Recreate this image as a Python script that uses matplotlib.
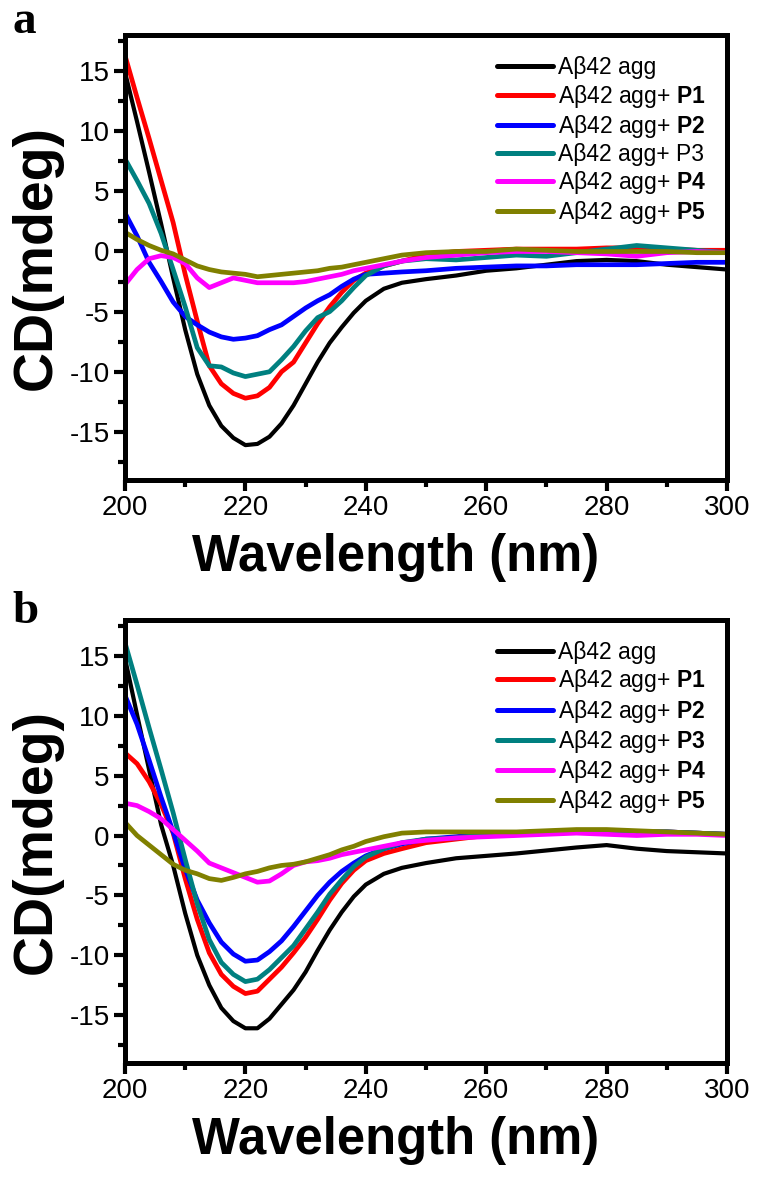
import matplotlib
matplotlib.use('Agg')
import matplotlib.pyplot as plt

plt.rcParams['font.family'] = ['Liberation Sans', 'DejaVu Sans']
plt.rcParams['mathtext.fontset'] = 'custom'
plt.rcParams['mathtext.rm'] = 'Liberation Sans'
plt.rcParams['mathtext.bf'] = 'Liberation Sans:bold'
plt.rcParams['axes.unicode_minus'] = False

wl = [200, 202, 204, 206, 208, 210, 212, 214, 216, 218, 220, 222, 224, 226, 228, 230, 232,
      234, 236, 238, 240, 243, 246, 250, 255, 260, 265, 270, 275, 280, 285, 290, 295, 300]

# panel a
a_agg = [14.9, 10.8, 6.6, 2.3, -2.2, -6.5, -10.2, -12.8, -14.5, -15.5, -16.1, -16.0, -15.4, -14.3,
         -12.8, -11.0, -9.2, -7.6, -6.3, -5.1, -4.1, -3.1, -2.6, -2.3, -2.0, -1.6, -1.4, -1.1, -0.8,
         -0.7, -0.8, -1.1, -1.3, -1.5]
a_p1 = [16.3, 12.8, 9.4, 5.9, 2.4, -1.9, -5.8, -9.5, -11.0, -11.8, -12.2, -12.0, -11.3, -10.0,
        -9.2, -7.6, -6.0, -4.6, -3.4, -2.4, -1.8, -1.2, -0.8, -0.3, 0.0, 0.1, 0.2, 0.2, 0.2, 0.3,
        0.3, 0.2, 0.1, 0.1]
a_p2 = [3.2, 1.3, -0.9, -2.5, -4.2, -5.4, -6.1, -6.7, -7.1, -7.3, -7.2, -7.0, -6.5, -6.1, -5.4,
        -4.7, -4.1, -3.6, -2.9, -2.3, -1.9, -1.8, -1.7, -1.6, -1.4, -1.3, -1.2, -1.2, -1.1, -1.1,
        -1.1, -1.0, -0.9, -0.9]
a_p3 = [7.7, 5.9, 4.0, 1.5, -1.5, -4.6, -8.0, -9.5, -9.6, -10.1, -10.4, -10.2, -10.0, -9.0, -7.9,
        -6.6, -5.5, -5.0, -4.1, -3.0, -2.0, -1.2, -0.8, -0.6, -0.7, -0.5, -0.3, -0.4, -0.1, 0.2,
        0.5, 0.3, 0.1, -0.1]
a_p4 = [-2.75, -1.5, -0.6, -0.35, -0.5, -1.0, -2.2, -3.0, -2.6, -2.2, -2.4, -2.6, -2.6, -2.6,
        -2.6, -2.5, -2.3, -2.1, -1.9, -1.6, -1.4, -1.1, -0.8, -0.5, -0.3, -0.1, 0.0, 0.0, -0.1,
        -0.2, -0.4, -0.1, 0.0, -0.1]
a_p5 = [1.6, 1.0, 0.5, 0.1, -0.2, -0.7, -1.2, -1.5, -1.7, -1.8, -1.9, -2.1, -2.0, -1.9, -1.8,
        -1.7, -1.6, -1.4, -1.3, -1.1, -0.9, -0.6, -0.3, -0.1, 0.0, 0.0, 0.2, 0.1, 0.0, 0.0, 0.0,
        0.0, -0.1, -0.1]

# panel b
b_agg = [14.8, 10.1, 5.5, 0.9, -2.5, -6.5, -10.0, -12.5, -14.4, -15.5, -16.1, -16.1, -15.3, -14.1,
         -12.9, -11.4, -9.6, -7.9, -6.4, -5.1, -4.1, -3.2, -2.7, -2.3, -1.9, -1.7, -1.5, -1.25,
         -1.0, -0.8, -1.1, -1.3, -1.4, -1.5]
b_p1 = [6.9, 6.0, 4.5, 2.6, 0.2, -3.6, -7.0, -9.8, -11.6, -12.6, -13.2, -13.0, -12.0, -11.0,
        -9.8, -8.5, -7.0, -5.4, -4.0, -2.9, -2.1, -1.5, -1.1, -0.6, -0.3, 0.0, 0.2, 0.3, 0.3, 0.3,
        0.3, 0.3, 0.2, 0.1]
b_p2 = [11.7, 9.3, 6.3, 3.2, 0.3, -2.8, -5.4, -7.3, -8.9, -9.9, -10.5, -10.4, -9.7, -8.8, -7.6,
        -6.3, -5.0, -3.9, -3.0, -2.3, -1.7, -1.1, -0.7, -0.3, -0.1, 0.2, 0.2, 0.3, 0.3, 0.3, 0.3,
        0.3, 0.2, 0.1]
b_p3 = [16.1, 12.6, 9.0, 5.5, 1.9, -2.0, -5.7, -8.7, -10.6, -11.6, -12.2, -12.0, -11.2, -10.2,
        -9.2, -7.8, -6.4, -4.9, -3.7, -2.6, -1.8, -1.1, -0.6, -0.3, -0.2, 0.1, 0.2, 0.3, 0.4, 0.4,
        0.3, 0.3, 0.2, 0.1]
b_p4 = [2.7, 2.5, 2.0, 1.4, 0.5, -0.4, -1.3, -2.3, -2.7, -3.1, -3.5, -3.9, -3.8, -3.2, -2.5,
        -2.2, -2.1, -1.9, -1.6, -1.4, -1.2, -0.9, -0.6, -0.4, -0.2, -0.1, 0.0, 0.1, 0.2, 0.1, 0.0,
        0.1, 0.1, 0.0]
b_p5 = [1.1, 0.0, -0.8, -1.6, -2.4, -2.9, -3.2, -3.6, -3.75, -3.5, -3.2, -3.0, -2.7, -2.5, -2.4,
        -2.2, -1.9, -1.6, -1.2, -0.9, -0.5, -0.1, 0.2, 0.3, 0.3, 0.3, 0.3, 0.4, 0.5, 0.5, 0.4,
        0.3, 0.2, 0.1]

colors = ['#000000', '#ff0000', '#0000ff', '#008080', '#ff00ff', '#808000']
labels_a = ['A\u03b242 agg', 'A\u03b242 agg+ $\\mathbf{P1}$', 'A\u03b242 agg+ $\\mathbf{P2}$',
            'A\u03b242 agg+ P3', 'A\u03b242 agg+ $\\mathbf{P4}$', 'A\u03b242 agg+ $\\mathbf{P5}$']
labels_b = ['A\u03b242 agg', 'A\u03b242 agg+ $\\mathbf{P1}$', 'A\u03b242 agg+ $\\mathbf{P2}$',
            'A\u03b242 agg+ $\\mathbf{P3}$', 'A\u03b242 agg+ $\\mathbf{P4}$', 'A\u03b242 agg+ $\\mathbf{P5}$']

fig = plt.figure(figsize=(7.64, 11.8), dpi=100)
ax_a = fig.add_axes([125/764, 1 - 480/1180, 602/764, 445/1180])
ax_b = fig.add_axes([125/764, 1 - 1063/1180, 602/764, 443/1180])


def draw(ax, series, labels):
    for ys, c, lab in zip(series, colors, labels):
        lw = 3.0 if c == '#000000' else 3.4
        ax.plot(wl, ys, color=c, lw=lw, label=lab, solid_capstyle='round', solid_joinstyle='round')
    ax.set_xlim(200, 300)
    ax.set_ylim(-19, 18)
    ax.set_xticks([200, 220, 240, 260, 280, 300])
    ax.set_xticks([210, 230, 250, 270, 290], minor=True)
    ax.set_yticks([-15, -10, -5, 0, 5, 10, 15])
    ax.set_yticks([-17.5, -12.5, -7.5, -2.5, 2.5, 7.5, 12.5, 17.5], minor=True)
    ax.tick_params(which='major', direction='out', length=8, width=3, labelsize=20, pad=3)
    ax.tick_params(which='minor', direction='out', length=5, width=3)
    for s in ax.spines.values():
        s.set_linewidth(3.6)
    ax.set_xlabel('Wavelength (nm)', fontsize=36.5, fontweight='bold')
    ax.xaxis.set_label_coords(0.449, -0.12)
    ax.set_ylabel('CD(mdeg)', fontsize=40, fontweight='bold')
    ax.yaxis.set_label_coords(-0.103, 0.5)
    leg = ax.legend(loc='upper left', bbox_to_anchor=(0.618, 0.952), frameon=False,
                    fontsize=16.5, handlelength=2.45, handletextpad=0.2, labelspacing=0.14,
                    borderpad=0, borderaxespad=0)
    for h in leg.get_lines():
        h.set_linewidth(3.6)
        h.set_solid_capstyle('round')


draw(ax_a, [a_agg, a_p1, a_p2, a_p3, a_p4, a_p5], labels_a)
draw(ax_b, [b_agg, b_p1, b_p2, b_p3, b_p4, b_p5], labels_b)

fig.text(12/764, 1 - 33/1180, 'a', fontsize=34, fontweight='bold', family='Liberation Serif')
fig.text(12/764, 1 - 623/1180, 'b', fontsize=34, fontweight='bold', family='Liberation Serif')

fig.savefig('out.png', dpi=100)
